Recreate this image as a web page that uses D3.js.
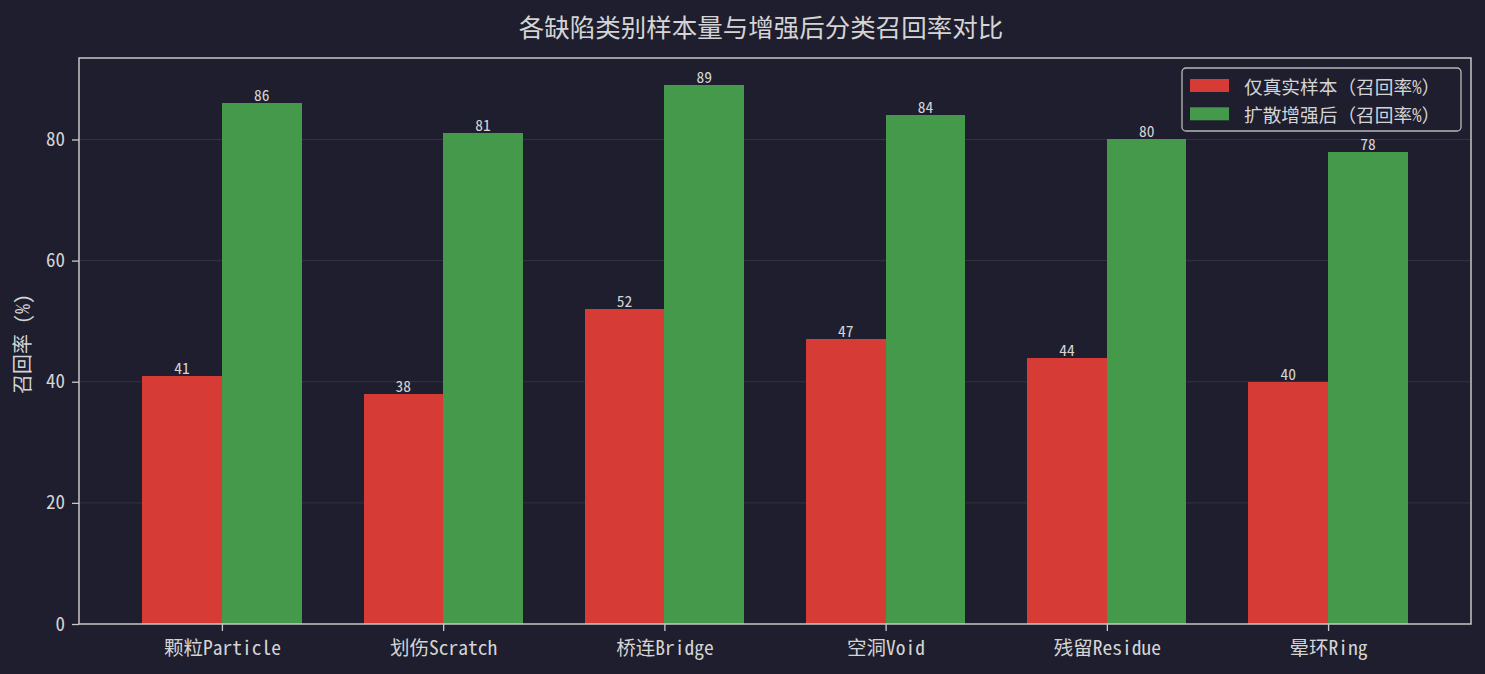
<!DOCTYPE html>
<html>
<head>
<meta charset="utf-8">
<script src="https://cdn.jsdelivr.net/npm/d3@7"></script>
<style>
body { margin:0; background:#1e1e2e; }
text { font-family: "Noto Sans Mono CJK SC", "Noto Sans CJK SC", monospace; fill:#d4d4d4; }
</style>
</head>
<body>
<div id="chart"></div>
<script>
const categories = ["颗粒Particle", "划伤Scratch", "桥连Bridge", "空洞Void", "残留Residue", "晕环Ring"]
const realOnly = [41, 38, 52, 47, 44, 40]
const augmented = [86, 81, 89, 84, 80, 78]
const yTicks = [0, 20, 40, 60, 80]
const seriesNames = ["仅真实样本（召回率%）", "扩散增强后（召回率%）"]
const colors = ["#d63c35", "#44994b"]

const width = 1485
const height = 674
const margin = {top:58, right:14, bottom:50, left:79}
const bounded = {
width : width - margin.left - margin.right,
height : height - margin.top - margin.bottom
}
const barW = 0.36

var svg = d3.select("#chart")
.append("svg")
.attr("width", width)
.attr("height", height)
.style("background", "#1e1e2e")

svg.append("text")
.attr("x", 761)
.attr("y", 37)
.attr("text-anchor", "middle")
.style("font-size", "25.5px")
.text("各缺陷类别样本量与增强后分类召回率对比")

var group = svg.append("g")
.attr("transform", "translate(" + margin.left + "," + margin.top + ")")

var xScale = d3.scaleLinear()
.domain([-0.646, categories.length - 1 + 0.646])
.range([0, bounded.width])

var yScale = d3.scaleLinear()
.domain([0, 93.45])
.range([bounded.height, 0])

// grid
group.selectAll(".grid")
.data(yTicks.slice(1))
.enter()
.append("line")
.attr("x1", 0)
.attr("x2", bounded.width)
.attr("y1", d => yScale(d))
.attr("y2", d => yScale(d))
.attr("stroke", "#34343f")
.attr("stroke-width", 1)

// bars
const series = [realOnly, augmented]
series.forEach((vals, s) => {
	group.selectAll(".bar" + s)
	.data(vals)
	.enter()
	.append("rect")
	.attr("x", (d,i) => xScale(i + (s === 0 ? -barW : 0)))
	.attr("y", d => yScale(d))
	.attr("width", xScale(barW) - xScale(0))
	.attr("height", d => bounded.height - yScale(d))
	.attr("fill", colors[s])
	.attr("shape-rendering", "crispEdges")

	group.selectAll(".lab" + s)
	.data(vals)
	.enter()
	.append("text")
	.attr("x", (d,i) => xScale(i + (s === 0 ? -barW/2 : barW/2)))
	.attr("y", d => yScale(d) - 2)
	.attr("text-anchor", "middle")
	.style("font-size", "15.5px")
	.text(d => d)
})

// axes
var xAxis = group.append("g")
.attr("transform", "translate(0," + bounded.height + ")")
.call(d3.axisBottom(xScale).tickValues(d3.range(categories.length)).tickFormat((d) => categories[d]).tickSize(7).tickPadding(10))
xAxis.selectAll("text").style("font-size", "19.5px")

var yAxis = group.append("g")
.call(d3.axisLeft(yScale).tickValues(yTicks).tickSize(7).tickPadding(7))
yAxis.selectAll("text").style("font-size", "19px")

group.selectAll(".domain").remove()
group.selectAll(".tick line").attr("stroke", "#c8c8c8").attr("stroke-width", 1.3)

group.append("rect")
.attr("x", 0)
.attr("y", 0)
.attr("width", bounded.width)
.attr("height", bounded.height)
.attr("fill", "none")
.attr("stroke", "#c8c8c8")
.attr("stroke-width", 1.5)

svg.append("text")
.attr("transform", "rotate(-90)")
.attr("x", -(margin.top + bounded.height/2) - 3)
.attr("y", 30)
.attr("text-anchor", "middle")
.style("font-size", "20px")
.text("召回率 (%)")

// legend
var legend = svg.append("g")
.attr("transform", "translate(1182,68)")
legend.append("rect")
.attr("width", 279)
.attr("height", 63)
.attr("rx", 4)
.attr("fill", "#1e1e2e")
.attr("stroke", "#b8b8b8")
.attr("stroke-width", 1.3)
seriesNames.forEach((n, i) => {
	legend.append("rect")
	.attr("x", 8)
	.attr("y", 11 + i*28.3)
	.attr("width", 39)
	.attr("height", 13)
	.attr("fill", colors[i])
	legend.append("text")
	.attr("x", 62)
	.attr("y", 17.5 + i*28.3)
	.attr("dominant-baseline", "central")
	.style("font-size", "18.7px")
	.text(n)
})
</script>
</body>
</html>
